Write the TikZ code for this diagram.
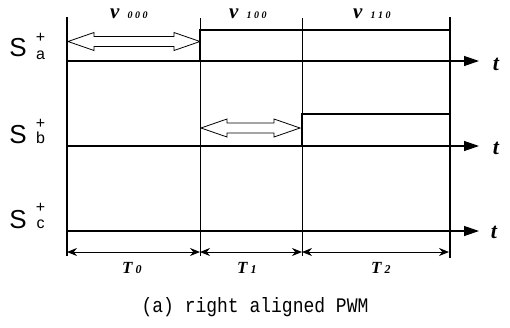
\documentclass[tikz,border=0pt]{standalone}
\usepackage{fontspec}
\setmainfont{Liberation Serif}
\setsansfont{Liberation Sans}
\setmonofont{Liberation Mono}
\usetikzlibrary{arrows.meta}
\newcommand{\hollowdbl}[3]{%
  \draw[hollowarrow] (#1,#3) -- ({#1+26},{#3-9}) -- ({#1+26},{#3-5}) -- ({#2-26},{#3-5}) -- ({#2-26},{#3-9}) -- (#2,#3) -- ({#2-26},{#3+9}) -- ({#2-26},{#3+5}) -- ({#1+26},{#3+5}) -- ({#1+26},{#3+9}) -- cycle;}
\begin{document}
\begin{tikzpicture}[x=1pt,y=-1pt,
  thinline/.style={line width=0.7pt},
  frameline/.style={line width=1.3pt},
  axisline/.style={line width=1.3pt,-{Triangle[length=15pt,width=10pt]}},
  signal/.style={line width=2.6pt},
  dimline/.style={line width=1pt,{Stealth[length=10pt,width=8pt]}-{Stealth[length=10pt,width=8pt]}},
  hollowarrow/.style={draw,fill=white,line width=0.8pt,line join=miter},
  bigS/.style={font=\sffamily\fontsize{26}{26}\selectfont,inner sep=0pt},
  supsub/.style={font=\sffamily\fontsize{16}{16}\selectfont,inner sep=0pt},
  vlab/.style={font=\bfseries\itshape\fontsize{21}{21}\selectfont,inner sep=0pt,anchor=base west},
  tlab/.style={font=\bfseries\itshape\fontsize{22}{22}\selectfont,inner sep=0pt},
  Tlab/.style={font=\bfseries\itshape\fontsize{17}{17}\selectfont,inner sep=0pt},
  caption/.style={font=\ttfamily\fontsize{18}{18}\selectfont,inner sep=0pt,yscale=1.15}]
\useasboundingbox (0,0) rectangle (510,327);
% frame coordinates
\coordinate (L0) at (67,17);
\coordinate (L1) at (67,256);
\coordinate (M1t) at (200,18);
\coordinate (M1b) at (200,256);
\coordinate (M2t) at (302,18);
\coordinate (M2b) at (302,256);
\coordinate (Rt) at (450,17);
\coordinate (Rb) at (450,258);
% axes
\coordinate (a0) at (67,61);
\coordinate (aE) at (479,61);
\coordinate (b0) at (67,146);
\coordinate (bE) at (479,146);
\coordinate (c0) at (67,231);
\coordinate (cE) at (479,231);
% signals
\coordinate (a1) at (200,61);
\coordinate (a2) at (200,30);
\coordinate (a3) at (450,30);
\coordinate (b1) at (302,146);
\coordinate (b2) at (302,114);
\coordinate (b3) at (450,114);
\coordinate (c1) at (450,231);
% dimension
\coordinate (d0) at (67,252);
\coordinate (d1) at (200,252);
\coordinate (d2) at (302,252);
\coordinate (d3) at (449,252);

\draw[thinline] (M1t) -- (M1b);
\draw[thinline] (M2t) -- (M2b);
\draw[frameline] (L0) -- (L1);
\draw[frameline] (Rt) -- (Rb);
\draw[axisline] (a0) -- (aE);
\draw[axisline] (b0) -- (bE);
\draw[axisline] (c0) -- (cE);
\draw[signal,line join=miter] (a0) -- (a1) -- (a2) -- (a3);
\draw[signal,line join=miter] (b0) -- (b1) -- (b2) -- (b3);
\draw[signal] (c0) -- (c1);
\draw[dimline] (d0) -- (d1);
\draw[dimline] (d1) -- (d2);
\draw[dimline] (d2) -- (d3);

\hollowdbl{68}{200}{41.5}
\hollowdbl{201}{300}{128}

% labels
\node[bigS] (Sa) at (18,47.5) {S};
\node[supsub] (Sap) at (40.5,37.5) {+};
\node[supsub] (Sas) at (40.5,55) {a};
\node[bigS] (Sb) at (18,134.5) {S};
\node[supsub] (Sbp) at (40.5,123.5) {+};
\node[supsub] (Sbs) at (40.5,137.5) {b};
\node[bigS] (Sc) at (18,220) {S};
\node[supsub] (Scp) at (40.5,207.5) {+};
\node[supsub] (Scs) at (40.5,224) {c};

\node[vlab] (v0) at (110,18) {v\hspace{8pt}{\fontsize{10}{10}\selectfont 0\hspace{2.5pt}0\hspace{2.5pt}0}};
\node[vlab] (v1) at (229,18) {v\hspace{8pt}{\fontsize{10}{10}\selectfont 1\hspace{2.5pt}0\hspace{2.5pt}0}};
\node[vlab] (v2) at (353,18) {v\hspace{8pt}{\fontsize{10}{10}\selectfont 1\hspace{2.5pt}1\hspace{2.5pt}0}};

\node[tlab] (ta) at (496,64) {t};
\node[tlab] (tb) at (496,148) {t};
\node[tlab] (tc) at (494,232) {t};

\node[Tlab,anchor=base west] (T0) at (122,273) {T\hspace{3pt}{\fontsize{12}{12}\selectfont 0}};
\node[Tlab,anchor=base west] (T1) at (237,273) {T\hspace{3pt}{\fontsize{12}{12}\selectfont 1}};
\node[Tlab,anchor=base west] (T2) at (371,273) {T\hspace{3pt}{\fontsize{12}{12}\selectfont 2}};

\node[caption] (cap) at (255,307) {(a) right aligned PWM};
\end{tikzpicture}
\end{document}
